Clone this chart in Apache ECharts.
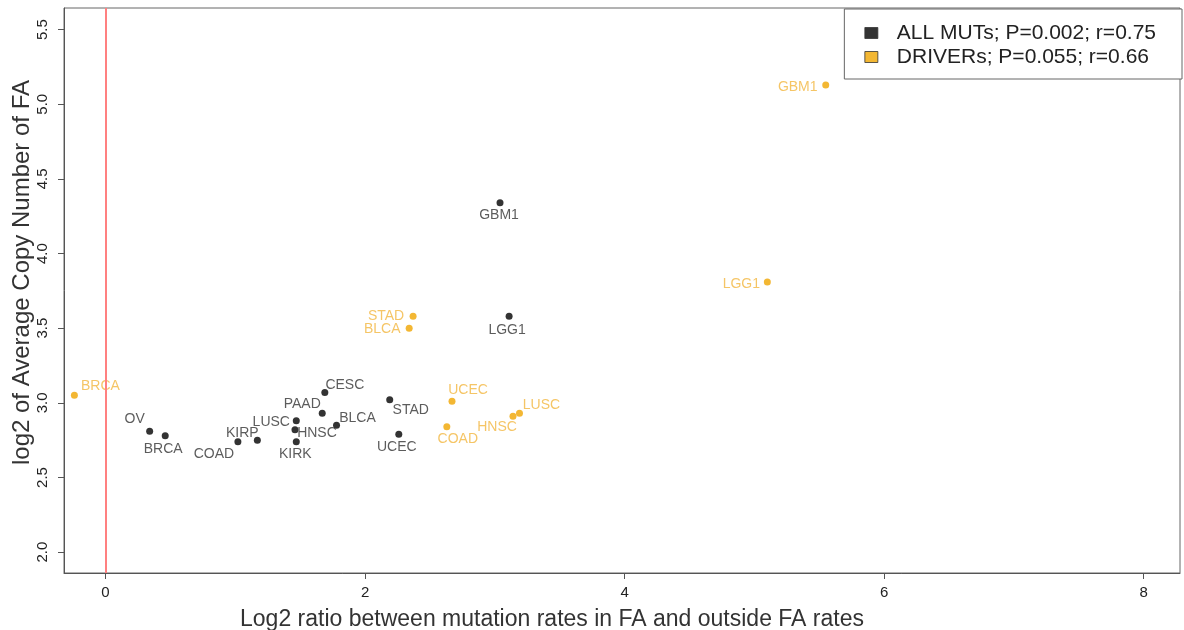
<!DOCTYPE html>
<html>
<head>
<meta charset="utf-8">
<script src="https://cdn.jsdelivr.net/npm/echarts@6/dist/echarts.min.js"></script>
<style>html,body{margin:0;padding:0;background:#fff;}#c{width:1184px;height:630px;}</style>
</head>
<body>
<div id="c"></div>
<script>
// ---- data ----
const allNames = ['GBM1','LGG1','CESC','STAD','PAAD','LUSC','BLCA','HNSC','OV','BRCA','UCEC','KIRP','COAD','KIRK'];
const allX     = [3.04, 3.11, 1.69, 2.19, 1.67, 1.47, 1.78, 1.46, 0.34, 0.46, 2.26, 1.17, 1.02, 1.47];
const allY     = [4.34, 3.58, 3.07, 3.02, 2.93, 2.88, 2.85, 2.82, 2.81, 2.78, 2.79, 2.75, 2.74, 2.74];

const drvNames = ['GBM1','LGG1','STAD','BLCA','BRCA','UCEC','COAD','HNSC','LUSC'];
const drvX     = [5.55, 5.10, 2.37, 2.34, -0.24, 2.67, 2.63, 3.14, 3.19];
const drvY     = [5.13, 3.81, 3.58, 3.50, 3.05, 3.01, 2.84, 2.91, 2.93];

const xTicks = [0, 2, 4, 6, 8];
const yTicks = [2.0, 2.5, 3.0, 3.5, 4.0, 4.5, 5.0, 5.5];
const legendNames = ['ALL MUTs; P=0.002; r=0.75', 'DRIVERs; P=0.055; r=0.66'];

// ---- label placement (style, offsets in px from point) ----
const allLabelOff = {
  GBM1:[-1,12], LGG1:[-2,14], CESC:[20,-7], STAD:[21,10], PAAD:[-20,-9], LUSC:[-25,1],
  BLCA:[21,-7], HNSC:[22,3], OV:[-15,-12], BRCA:[-2,13], UCEC:[-2,13], KIRP:[-15,-7],
  COAD:[-24,13], KIRK:[-1,13]
};
const drvLabelOff = {
  GBM1:[-28,2], LGG1:[-26,2], STAD:[-27,0], BLCA:[-27,1], BRCA:[26,-9],
  UCEC:[16,-11], COAD:[11,12], HNSC:[-16,11], LUSC:[22,-8]
};

const FONT = 'Liberation Sans, Arial, sans-serif';

function build(names, xs, ys, offs, color) {
  return names.map((n, i) => ({
    name: n,
    value: [xs[i], ys[i]],
    label: {show: true, formatter: n, position: 'inside', offset: offs[n],
            color: color, fontSize: 14, fontFamily: FONT}
  }));
}

const chart = echarts.init(document.getElementById('c'), null, {renderer: 'canvas'});
const axisCol = '#555';
chart.setOption({
  animation: false,
  backgroundColor: '#fff',
  grid: {left: 64, right: 4, top: 8, bottom: 57, show: true, borderColor: '#666', borderWidth: 1,
         containLabel: false, outerBoundsMode: 'none'},
  legend: {
    orient: 'vertical', right: 2, top: 9,
    data: legendNames,
    icon: 'rect', itemWidth: 13, itemHeight: 11, itemGap: 2,
    itemStyle: {borderColor: '#333', borderWidth: 1},
    borderColor: '#666', borderWidth: 1, backgroundColor: '#fff',
    padding: [13, 26, 11, 20],
    textStyle: {fontSize: 21, lineHeight: 22, color: '#222', fontFamily: FONT, padding: [0,0,0,14]}
  },
  xAxis: {
    type: 'value', min: -0.32, max: 8.28,
    splitLine: {show: false},
    axisLine: {show: true, onZero: false, lineStyle: {color: axisCol}},
    axisTick: {show: true, length: 6, customValues: xTicks, lineStyle: {color: axisCol}},
    axisLabel: {customValues: xTicks, color: '#222', fontSize: 15, margin: 12, fontFamily: FONT},
    name: 'Log2 ratio between mutation rates in FA and outside FA rates',
    nameLocation: 'middle', nameGap: 35,
    nameTextStyle: {fontSize: 23, color: '#333', fontFamily: FONT, padding: [0, 140, 0, 0]}
  },
  yAxis: {
    type: 'value', min: 1.86, max: 5.645,
    splitLine: {show: false},
    axisLine: {show: true, onZero: false, lineStyle: {color: axisCol}},
    axisTick: {show: true, length: 6, customValues: yTicks, lineStyle: {color: axisCol}},
    axisLabel: {customValues: yTicks, rotate: 90, color: '#222', fontSize: 15, margin: 14,
                formatter: v => v.toFixed(1), fontFamily: FONT},
    name: 'log2 of Average Copy Number of FA',
    nameLocation: 'middle', nameGap: 30, nameRotate: 90, nameMoveOverlap: false,
    nameTextStyle: {fontSize: 24, color: '#333', fontFamily: FONT, padding: [0, 0, 0, 36]}
  },
  series: [
    {
      name: legendNames[0], type: 'scatter', symbolSize: 7,
      itemStyle: {color: '#000'},
      data: build(allNames, allX, allY, allLabelOff, '#333'),
      markLine: {
        silent: true, symbol: 'none', label: {show: false},
        lineStyle: {color: '#ff8080', width: 2, type: 'solid'},
        data: [{xAxis: 0}]
      },
      z: 3
    },
    {
      name: legendNames[1], type: 'scatter', symbolSize: 7,
      itemStyle: {color: '#f0a500'},
      data: build(drvNames, drvX, drvY, drvLabelOff, '#f3b640'),
      z: 3
    }
  ]
});
</script>
</body>
</html>
